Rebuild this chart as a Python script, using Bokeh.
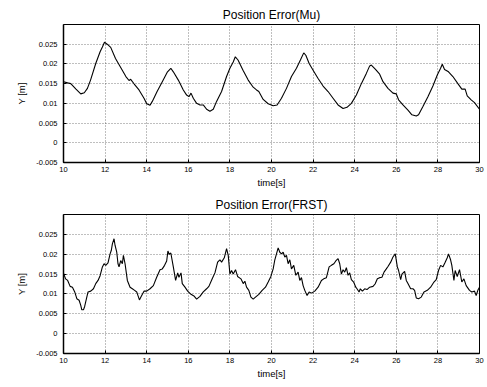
from bokeh.plotting import figure
from bokeh.layouts import column
from bokeh.models import FixedTicker, CustomJSTickFormatter, Range1d
from bokeh.embed import file_html
from bokeh.resources import INLINE

titles = ["Position Error(Mu)", "Position Error(FRST)"]
x_label = "time[s]"
y_label = "Y [m]"
x_ticks = [10, 12, 14, 16, 18, 20, 22, 24, 26, 28, 30]
y_ticks = [-0.005, 0, 0.005, 0.01, 0.015, 0.02, 0.025]
x_lim = (10, 30)
y_lim = (-0.005, 0.03)

t_mu = [10.0, 10.2, 10.35, 10.6, 10.83, 11.0, 11.15, 11.3, 11.55, 11.76, 11.87, 11.97,
        12.1, 12.27, 12.5, 12.75, 13.0, 13.15, 13.23, 13.4, 13.63, 13.87, 14.0, 14.16,
        14.27, 14.5, 14.75, 15.0, 15.16, 15.28, 15.52, 15.76, 15.92, 16.03, 16.13, 16.24,
        16.4, 16.56, 16.72, 16.88, 17.04, 17.2, 17.36, 17.6, 17.84, 18.0, 18.16, 18.26,
        18.39, 18.63, 18.88, 19.12, 19.28, 19.39, 19.6, 19.84, 20.08, 20.27, 20.48, 20.72,
        20.96, 21.2, 21.39, 21.55, 21.65, 21.81, 22.0, 22.24, 22.48, 22.72, 22.96, 23.2,
        23.44, 23.63, 23.84, 24.08, 24.32, 24.56, 24.72, 24.8, 25.0, 25.2, 25.36, 25.6,
        25.84, 26.0, 26.11, 26.32, 26.56, 26.75, 26.96, 27.07, 27.28, 27.52, 27.76, 27.97,
        28.13, 28.21, 28.32, 28.51, 28.72, 28.96, 29.15, 29.31, 29.41, 29.6, 29.76, 30.0]
y_mu = [0.0155, 0.0152, 0.015, 0.0136, 0.0124, 0.0127, 0.0138, 0.0159, 0.0201, 0.0231, 0.0243, 0.0255,
        0.025, 0.0242, 0.0214, 0.0191, 0.0168, 0.0158, 0.0161, 0.0149, 0.0134, 0.0113, 0.0099, 0.0095,
        0.0105, 0.013, 0.0155, 0.018, 0.0189, 0.018, 0.0159, 0.0134, 0.0121, 0.0117, 0.0126, 0.0113,
        0.01, 0.0096, 0.0096, 0.0085, 0.008, 0.0085, 0.0105, 0.013, 0.0168, 0.0189, 0.0205, 0.0218,
        0.021, 0.0184, 0.0159, 0.0141, 0.0134, 0.013, 0.011, 0.0099, 0.0094, 0.0096, 0.0113, 0.0138,
        0.0168, 0.0189, 0.021, 0.0228, 0.0222, 0.0201, 0.0184, 0.0163, 0.0144, 0.013, 0.0113, 0.0096,
        0.0087, 0.009, 0.01, 0.0121, 0.015, 0.0176, 0.0195, 0.0197, 0.0186, 0.0174, 0.0155, 0.0138,
        0.0126, 0.0124, 0.0109, 0.0096, 0.0083, 0.0071, 0.0068, 0.0071, 0.0092, 0.0117, 0.0144, 0.0172,
        0.0189, 0.0199, 0.0186, 0.018, 0.0168, 0.015, 0.0136, 0.0136, 0.0119, 0.0109, 0.0102, 0.0085]

t_frst = [10.0, 10.1, 10.2, 10.32, 10.43, 10.54, 10.64, 10.75, 10.83, 10.88, 10.96, 11.02,
          11.12, 11.18, 11.31, 11.44, 11.55, 11.66, 11.76, 11.87, 11.95, 12.03, 12.14, 12.24,
          12.3, 12.35, 12.43, 12.48, 12.56, 12.62, 12.67, 12.75, 12.83, 12.88, 12.96, 13.07,
          13.2, 13.31, 13.42, 13.52, 13.65, 13.74, 13.87, 14.0, 14.16, 14.32, 14.48, 14.64,
          14.75, 14.86, 14.96, 15.02, 15.08, 15.16, 15.28, 15.39, 15.49, 15.55, 15.65, 15.71,
          15.84, 15.97, 16.13, 16.29, 16.4, 16.56, 16.72, 16.88, 16.99, 17.15, 17.28, 17.41,
          17.52, 17.6, 17.73, 17.84, 17.92, 18.0, 18.08, 18.16, 18.27, 18.37, 18.53, 18.64,
          18.72, 18.8, 18.91, 19.01, 19.12, 19.23, 19.39, 19.55, 19.71, 19.84, 19.97, 20.08,
          20.16, 20.24, 20.32, 20.4, 20.48, 20.56, 20.64, 20.72, 20.8, 20.88, 20.96, 21.07,
          21.17, 21.28, 21.36, 21.44, 21.52, 21.6, 21.71, 21.81, 21.92, 22.08, 22.24, 22.4,
          22.51, 22.64, 22.77, 22.88, 23.0, 23.09, 23.2, 23.28, 23.36, 23.44, 23.52, 23.6,
          23.68, 23.76, 23.84, 23.95, 24.05, 24.11, 24.21, 24.27, 24.37, 24.48, 24.59, 24.72,
          24.88, 24.98, 25.09, 25.2, 25.31, 25.41, 25.52, 25.6, 25.73, 25.84, 25.95, 26.05,
          26.11, 26.21, 26.27, 26.4, 26.48, 26.56, 26.69, 26.8, 26.88, 26.96, 27.07, 27.2,
          27.33, 27.49, 27.65, 27.81, 27.92, 28.03, 28.13, 28.24, 28.35, 28.45, 28.51, 28.61,
          28.67, 28.77, 28.83, 28.93, 29.04, 29.15, 29.25, 29.36, 29.52, 29.63, 29.76, 29.84,
          29.92, 30.0]
y_frst = [0.0152, 0.0138, 0.0134, 0.0119, 0.0117, 0.0105, 0.0088, 0.0084, 0.0071, 0.006, 0.006, 0.0069,
          0.0092, 0.0105, 0.0107, 0.0113, 0.0126, 0.0134, 0.0146, 0.0168, 0.0176, 0.0172, 0.0178, 0.0201,
          0.021, 0.0226, 0.0239, 0.0222, 0.0205, 0.0176, 0.0168, 0.0184, 0.0176, 0.0197, 0.0176, 0.0134,
          0.0117, 0.0113, 0.0109, 0.0105, 0.0085, 0.0094, 0.0107, 0.0107, 0.0113, 0.0121, 0.0142, 0.0161,
          0.0163, 0.0172, 0.0183, 0.0208, 0.02, 0.0203, 0.0168, 0.0134, 0.0153, 0.0142, 0.0153, 0.0126,
          0.0117, 0.0107, 0.0099, 0.0094, 0.0087, 0.0094, 0.0105, 0.0113, 0.0119, 0.0138, 0.0153, 0.018,
          0.0186, 0.018, 0.0191, 0.0214, 0.0197, 0.015, 0.0159, 0.015, 0.0161, 0.0144, 0.0138, 0.0126,
          0.0132, 0.0117, 0.0109, 0.0092, 0.0087, 0.0092, 0.0099, 0.0109, 0.0117, 0.013, 0.0144, 0.0163,
          0.0186, 0.0201, 0.0216, 0.0205, 0.0201, 0.0205, 0.0193, 0.0197, 0.0176, 0.0186, 0.0163, 0.0172,
          0.0147, 0.0155, 0.0134, 0.0141, 0.0121, 0.0109, 0.0096, 0.0105, 0.0102, 0.0107, 0.0117, 0.0134,
          0.0138, 0.0141, 0.0168, 0.0172, 0.0176, 0.0183, 0.0189, 0.0176, 0.015, 0.0161, 0.0155, 0.0166,
          0.0147, 0.0153, 0.0136, 0.013, 0.0117, 0.0113, 0.0105, 0.0113, 0.0107, 0.0113, 0.0111, 0.0117,
          0.0119, 0.0125, 0.0138, 0.0141, 0.0142, 0.0155, 0.0163, 0.0169, 0.018, 0.0193, 0.0201, 0.0168,
          0.0159, 0.0136, 0.015, 0.0157, 0.0134, 0.0126, 0.0113, 0.0113, 0.0109, 0.009, 0.0088, 0.0092,
          0.0105, 0.0109, 0.0117, 0.013, 0.0136, 0.0159, 0.0172, 0.0168, 0.018, 0.0191, 0.0201, 0.0186,
          0.0172, 0.0134, 0.0159, 0.0144, 0.0161, 0.013, 0.0138, 0.0121, 0.0109, 0.0105, 0.0107, 0.0096,
          0.0109, 0.0117]

FONT = "Liberation Sans"


def make(title, t, y, height, top, bottom):
    p = figure(width=487, height=height, output_backend="svg", toolbar_location=None,
               x_range=Range1d(*x_lim), y_range=Range1d(*y_lim),
               min_border_left=63, min_border_right=8,
               min_border_top=top, min_border_bottom=bottom,
               background_fill_color="white", border_fill_color="white")
    p.title.text = title
    p.title.align = "center"
    p.title.text_font = FONT
    p.title.text_font_size = "12px"
    p.title.text_font_style = "normal"
    p.title.text_color = "black"
    p.title.standoff = 5
    p.title.offset = 0

    p.line(t, y, line_color="black", line_width=1.1)

    p.xaxis.ticker = FixedTicker(ticks=x_ticks)
    p.yaxis.ticker = FixedTicker(ticks=y_ticks)
    p.yaxis.formatter = CustomJSTickFormatter(code="return String(parseFloat(tick.toFixed(4)));")
    for ax in (p.xaxis[0], p.yaxis[0]):
        ax.major_tick_in = 3
        ax.major_tick_out = 0
        ax.minor_tick_line_color = None
        ax.axis_line_color = "black"
        ax.axis_line_width = 1.5
        ax.major_tick_line_color = "black"
        ax.major_label_text_font = FONT
        ax.major_label_text_font_size = "7.5px"
        ax.major_label_text_color = "black"
        ax.axis_label_text_font = FONT
        ax.axis_label_text_font_size = "9.5px"
        ax.axis_label_text_font_style = "normal"
        ax.axis_label_text_color = "black"
    p.xaxis.axis_label = x_label
    p.yaxis.axis_label = y_label
    p.xaxis.major_label_standoff = 4
    p.xaxis.axis_label_standoff = 2
    p.yaxis.major_label_standoff = 6
    p.yaxis.axis_label_standoff = 6

    for g in (p.xgrid[0], p.ygrid[0]):
        g.grid_line_color = "black"
        g.grid_line_alpha = 0.5
        g.grid_line_dash = "1 2"
        g.grid_line_width = 1
    p.outline_line_color = "black"
    p.outline_line_width = 1
    return p


# Bokeh's page template sets body margin to 0, so the layout starts at (0, 0)
p1 = make(titles[0], t_mu, y_mu, 190, 24, 27)
p2 = make(titles[1], t_frst, y_frst, 197, 24, 34)
layout = column(p1, p2, spacing=0)

open("out.html", "w").write(file_html(layout, INLINE))
